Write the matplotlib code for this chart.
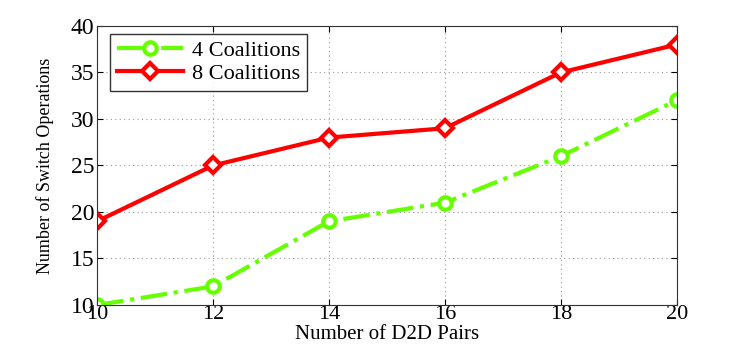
import matplotlib
matplotlib.use("Agg")
import matplotlib.pyplot as plt

x = [10, 12, 14, 16, 18, 20]
coal4 = [10, 12, 19, 21, 26, 32]
coal8 = [19, 25, 28, 29, 35, 38]
xticks = [10, 12, 14, 16, 18, 20]
yticks = [10, 15, 20, 25, 30, 35, 40]

plt.rcParams['font.family'] = ['Liberation Serif', 'DejaVu Serif']

fig = plt.figure(figsize=(7.47, 3.46), dpi=100)
ax = fig.add_axes([0.130, 0.1185, 0.776, 0.8065])

ax.plot(x, coal4, color='#66ff00', linestyle='-.', linewidth=3,
        marker='o', markersize=9, markerfacecolor='white',
        markeredgecolor='#66ff00', markeredgewidth=3, label='4 Coalitions')
ax.plot(x, coal8, color='#ff0000', linestyle='-', linewidth=3,
        marker='D', markersize=8, markerfacecolor='white',
        markeredgecolor='#ff0000', markeredgewidth=3, label='8 Coalitions')

ax.set_xlim(10, 20)
ax.set_ylim(10, 40)
ax.set_xticks(xticks)
ax.set_yticks(yticks)
ax.tick_params(direction='in', top=True, right=True, labelsize=17, length=4, pad=2)
ax.tick_params(axis='x', labelsize=16, pad=0)
ax.grid(True, linestyle=(0, (1, 3)), color='#999999', linewidth=0.8)
for s in ax.spines.values():
    s.set_color('#333333')

ax.set_xlabel('Number of D2D Pairs', fontsize=15, labelpad=1)
ax.set_ylabel('Number of Switch Operations', fontsize=13, labelpad=12)

leg = ax.legend(loc='upper left', fontsize=16, frameon=True, fancybox=False,
                edgecolor='black', handlelength=3.0, borderpad=0.3,
                labelspacing=0.1, handletextpad=0.4, borderaxespad=0,
                bbox_to_anchor=(0.022, 0.971))
leg.get_frame().set_linewidth(1)

fig.savefig('out.png', dpi=100)
